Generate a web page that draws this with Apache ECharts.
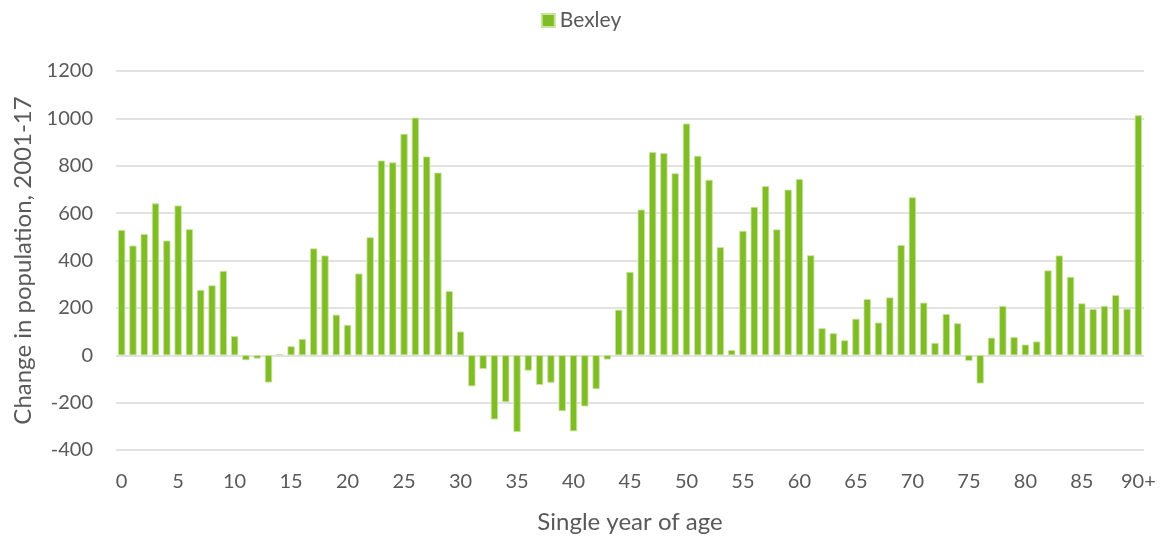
<!DOCTYPE html>
<html>
<head>
<meta charset="utf-8">
<script src="https://cdn.jsdelivr.net/npm/echarts@6/dist/echarts.min.js"></script>
<style>
  html, body { margin: 0; padding: 0; background: #fff; }
  #chart { width: 1162px; height: 536px; }
</style>
</head>
<body>
<div id="chart"></div>
<script>
// ages 0..89 plus 90+
var ages = [];
for (var i = 0; i < 90; i++) ages.push(String(i));
ages.push("90+");

// change in population 2001-17
var bexley = [
  529, 463, 512, 641, 484, 632, 532, 276, 295, 356,
  81, -21, -14, -115, 5, 38, 69, 451, 421, 171,
  128, 345, 498, 822, 814, 935, 1003, 839, 771, 271,
  100, -131, -58, -271, -198, -324, -65, -125, -116, -236,
  -321, -216, -143, -18, 192, 352, 615, 858, 853, 768,
  978, 842, 741, 456, 22, 525, 626, 714, 531, 699,
  744, 422, 114, 93, 63, 154, 237, 138, 244, 465,
  667, 222, 52, 174, 135, -24, -119, 74, 208, 77,
  45, 58, 358, 421, 331, 219, 195, 208, 254, 196,
  1013
];

var yMin = -400, yMax = 1200, yStep = 200;

var font = "Lato, 'Open Sans', sans-serif";
var myChart = echarts.init(document.getElementById("chart"));

var option = {
  animation: false,
  color: ["#80BC26"],
  textStyle: { fontFamily: font },
  legend: {
    top: 5,
    left: "center",
    icon: "rect",
    itemWidth: 13,
    itemHeight: 13,
    itemGap: 8,
    textStyle: { color: "#595959", fontSize: 21, fontFamily: font },
    data: ["Bexley"]
  },
  grid: {
    left: 116,
    right: 18,
    top: 71,
    bottom: 86,
    outerBoundsMode: "none"
  },
  xAxis: {
    type: "category",
    data: ages,
    name: "Single year of age",
    nameLocation: "middle",
    nameGap: 60,
    nameTextStyle: { color: "#595959", fontSize: 24, fontFamily: font },
    axisLine: { show: false },
    axisTick: { show: false },
    axisLabel: {
      color: "#595959",
      fontSize: 20,
      fontFamily: font,
      margin: 22,
      interval: function (idx) { return idx % 5 === 0 || idx === 90; },
      formatter: function (v, idx) { return (idx % 5 === 0 || idx === 90) ? v : ""; }
    }
  },
  yAxis: {
    type: "value",
    min: yMin,
    max: yMax,
    interval: yStep,
    name: "Change in population, 2001-17",
    nameLocation: "middle",
    nameGap: 81,
    nameTextStyle: { color: "#595959", fontSize: 24, fontFamily: font },
    axisLine: { show: false },
    axisTick: { show: false },
    axisLabel: {
      color: "#595959",
      fontSize: 20,
      fontFamily: font,
      margin: 23,
      formatter: function (v) { return String(v); }
    },
    splitLine: { show: true, lineStyle: { color: "#D9D9D9", width: 1.5 } }
  },
  series: [
    {
      name: "Bexley",
      type: "bar",
      data: bexley,
      barCategoryGap: "36%",
      itemStyle: {
        color: "#80BC26",
        borderColor: "#C9E49E",
        borderWidth: 0.8
      }
    }
  ]
};
myChart.setOption(option);
</script>
</body>
</html>
